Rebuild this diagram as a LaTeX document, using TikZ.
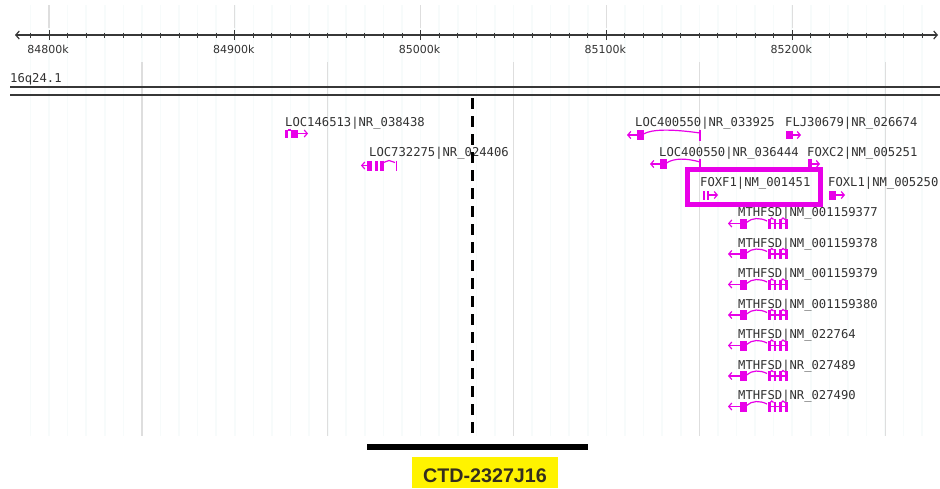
\documentclass[tikz,border=0pt]{standalone}
\usepackage{fontspec}
\setmainfont{DejaVu Sans}
\newfontfamily\monofont{DejaVu Sans Mono}
\newfontfamily\arialfont{Liberation Sans}
\usetikzlibrary{arrows.meta, positioning}

\definecolor{genepink}{RGB}{232,0,232}
\definecolor{labeltext}{RGB}{50,50,50}
\definecolor{cloneyellow}{RGB}{255,243,0}
\definecolor{clonetext}{RGB}{52,46,30}
\definecolor{gridgray}{RGB}{222,222,222}
\definecolor{faintgray}{RGB}{247,251,251}
\definecolor{rulergray}{RGB}{55,55,55}

\newcommand\glabfont{\monofont\fontsize{12.2}{12}\selectfont}
\newcommand\rlabfont{\fontsize{11}{11}\selectfont}
\newcommand\clabfont{\arialfont\bfseries\fontsize{19.7}{20}\selectfont}

\begin{document}
\begin{tikzpicture}[
  x=1pt, y=-1pt,
  genelbl/.style={font=\glabfont, text=labeltext, anchor=base west, inner sep=0pt},
  rulerlbl/.style={font=\rlabfont, text=labeltext, inner sep=0pt},
  gene/.style={draw=genepink, line width=1.2pt},
  exon/.style={fill=genepink},
  tohead/.style={-{Straight Barb[length=3pt,width=7pt]}},
  hlbox/.style={draw=genepink, line width=5pt, minimum width=133pt,
                minimum height=35pt, inner sep=0pt},
  clonelbl/.style={fill=cloneyellow, text=clonetext, font=\clabfont,
                   minimum width=146pt, minimum height=31pt, inner sep=0pt,
                   text height=19pt, text depth=0pt},
  gridline/.style={draw=gridgray, line width=1.2pt},
  faintline/.style={draw=faintgray, line width=1.6pt},
  breakpt/.style={draw=black, line width=3pt, dash pattern=on 11pt off 7pt},
  ruler/.style={draw=rulergray, line width=1.2pt}
]
\useasboundingbox[fill=white] (0,0) rectangle (940,488);

% background grid
\foreach \i in {-1,...,48}
  \draw[faintline] (49+18.58*\i,5) -- (49+18.58*\i,436);
\foreach \i in {0,...,4}
  \draw[gridline] (49+185.8*\i,5) -- (49+185.8*\i,28);
\foreach \i in {0,...,4}
  \draw[gridline] (141.9+185.8*\i,62) -- (141.9+185.8*\i,436);

% ruler
\draw[ruler, {Straight Barb[length=3.5pt,width=8pt]}-{Straight Barb[length=3.5pt,width=8pt]}]
  (15,35) -- (938,35);
\foreach \i in {-1,...,47}
  \draw[ruler, line width=1pt] (49+18.58*\i,32.5) -- (49+18.58*\i,37.5);
\foreach \k [count=\j from 0] in {84800,84900,85000,85100,85200}{
  \draw[ruler, line width=1pt] (49+185.8*\j,30) -- (49+185.8*\j,39.5);
  \node[rulerlbl] (pos\k) at (48+185.8*\j,49) {\k k};
}

% chromosome band
\node[genelbl] (band) at (10,82.5) {16q24.1};
\draw[rulergray, line width=1.6pt] (10,87) -- (940,87);
\draw[rulergray, line width=1.6pt] (10,95) -- (940,95);

% gene labels
\node[genelbl] (loc146513) at (285,126) {LOC146513|NR\_038438};
\node[genelbl] (loc732275) at (369,156.5) {LOC732275|NR\_024406};
\node[genelbl] (loc400550a) at (635,126.5) {LOC400550|NR\_033925};
\node[genelbl] (flj30679) at (785,126.5) {FLJ30679|NR\_026674};
\node[genelbl] (loc400550b) at (659,156.5) {LOC400550|NR\_036444};
\node[genelbl] (foxc2) at (807,156.5) {FOXC2|NM\_005251};
\node[genelbl] (foxf1) at (700,186.5) {FOXF1|NM\_001451};
\node[genelbl] (foxl1) at (828,186.5) {FOXL1|NM\_005250};

% gene models
\begin{scope}[shift={(0,133.5)}]
  \fill[exon] (285,-4) rectangle (287.5,4);
  \draw[gene] (287.5,-3.5) -- (291,-3.5);
  \fill[exon] (291,-4) rectangle (298,4);
  \draw[gene,tohead] (298,0) -- (308,0);
\end{scope}
\begin{scope}[shift={(0,165.5)}]
  \draw[gene,tohead] (368,0) -- (361,0);
  \fill[exon] (367,-5) rectangle (372,5);
  \fill[exon] (374.5,-5) rectangle (377.5,5);
  \fill[exon] (380,-5) rectangle (383.5,5);
  \draw[gene] (383.5,-3) -- (389,-5) -- (395,-3);
  \draw[gene] (396.5,-5) -- (396.5,5);
\end{scope}
\begin{scope}[shift={(0,135)}]
  \draw[gene,tohead] (637,0) -- (627,0);
  \fill[exon] (637,-5) rectangle (643.5,5);
  \draw[gene] (643.5,-1) .. controls (652,-6) and (672,-6) .. (700,-2);
  \draw[gene] (700,-5.5) -- (700,5.5);
  \fill[exon] (786,-4) rectangle (792.5,4);
  \draw[gene,tohead] (792.5,0) -- (801,0);
\end{scope}
\begin{scope}[shift={(0,164)}]
  \draw[gene,tohead] (660,0) -- (650,0);
  \fill[exon] (660,-5) rectangle (666.5,5);
  \draw[gene] (666.5,-1) .. controls (674,-6) and (686,-6) .. (700,-2);
  \draw[gene] (700,-5) -- (700,6);
  \fill[exon] (807.5,-5) rectangle (811.5,4);
  \draw[gene,tohead] (811.5,0) -- (820,0);
\end{scope}
\begin{scope}[shift={(0,195)}]
  \fill[exon] (702.5,-4.5) rectangle (704.5,4.5);
  \fill[exon] (706.5,-4.5) rectangle (709,4.5);
  \draw[gene,tohead] (709,0) -- (718,0);
  \fill[exon] (829,-4.5) rectangle (835.5,4.5);
  \draw[gene,tohead] (835.5,0) -- (845,0);
\end{scope}

% MTHFSD transcripts
\foreach \acc [count=\n from 0] in {NM\_001159377,NM\_001159378,NM\_001159379,
    NM\_001159380,NM\_022764,NR\_027489,NR\_027490}{
  \node[genelbl] (mthfsd\n) at (738,216.5+30.5*\n) {MTHFSD|\acc};
  \begin{scope}[shift={(0,223.5+30.5*\n)}]
    \draw[gene,tohead] (740,0) -- (728,0);
    \fill[exon] (740,-5) rectangle (746.5,5);
    \draw[gene] (746.5,-1) .. controls (752,-6) and (760,-6) .. (767,-2.5);
    \foreach \bx in {768,773.5,779,785}
      \fill[exon] (\bx,-5) rectangle (\bx+2.5,5);
    \draw[gene] (770.3,-4) -- (771.8,-5.5) -- (773.5,-4);
    \draw[gene] (781.3,-4) -- (783,-5.5) -- (785,-4);
    \draw[gene] (770.3,0) -- (785,0);
  \end{scope}
}

% highlighted gene
\node[hlbox] (foxbox) at (754,187) {};

% breakpoint
\draw[breakpt] (472.5,98) -- (472.5,433);

% BAC clone
\draw[line width=6pt] (367,446.5) -- (588,446.5);
\node[clonelbl] (clone) at (485,472.5) {CTD-2327J16};
\end{tikzpicture}
\end{document}
